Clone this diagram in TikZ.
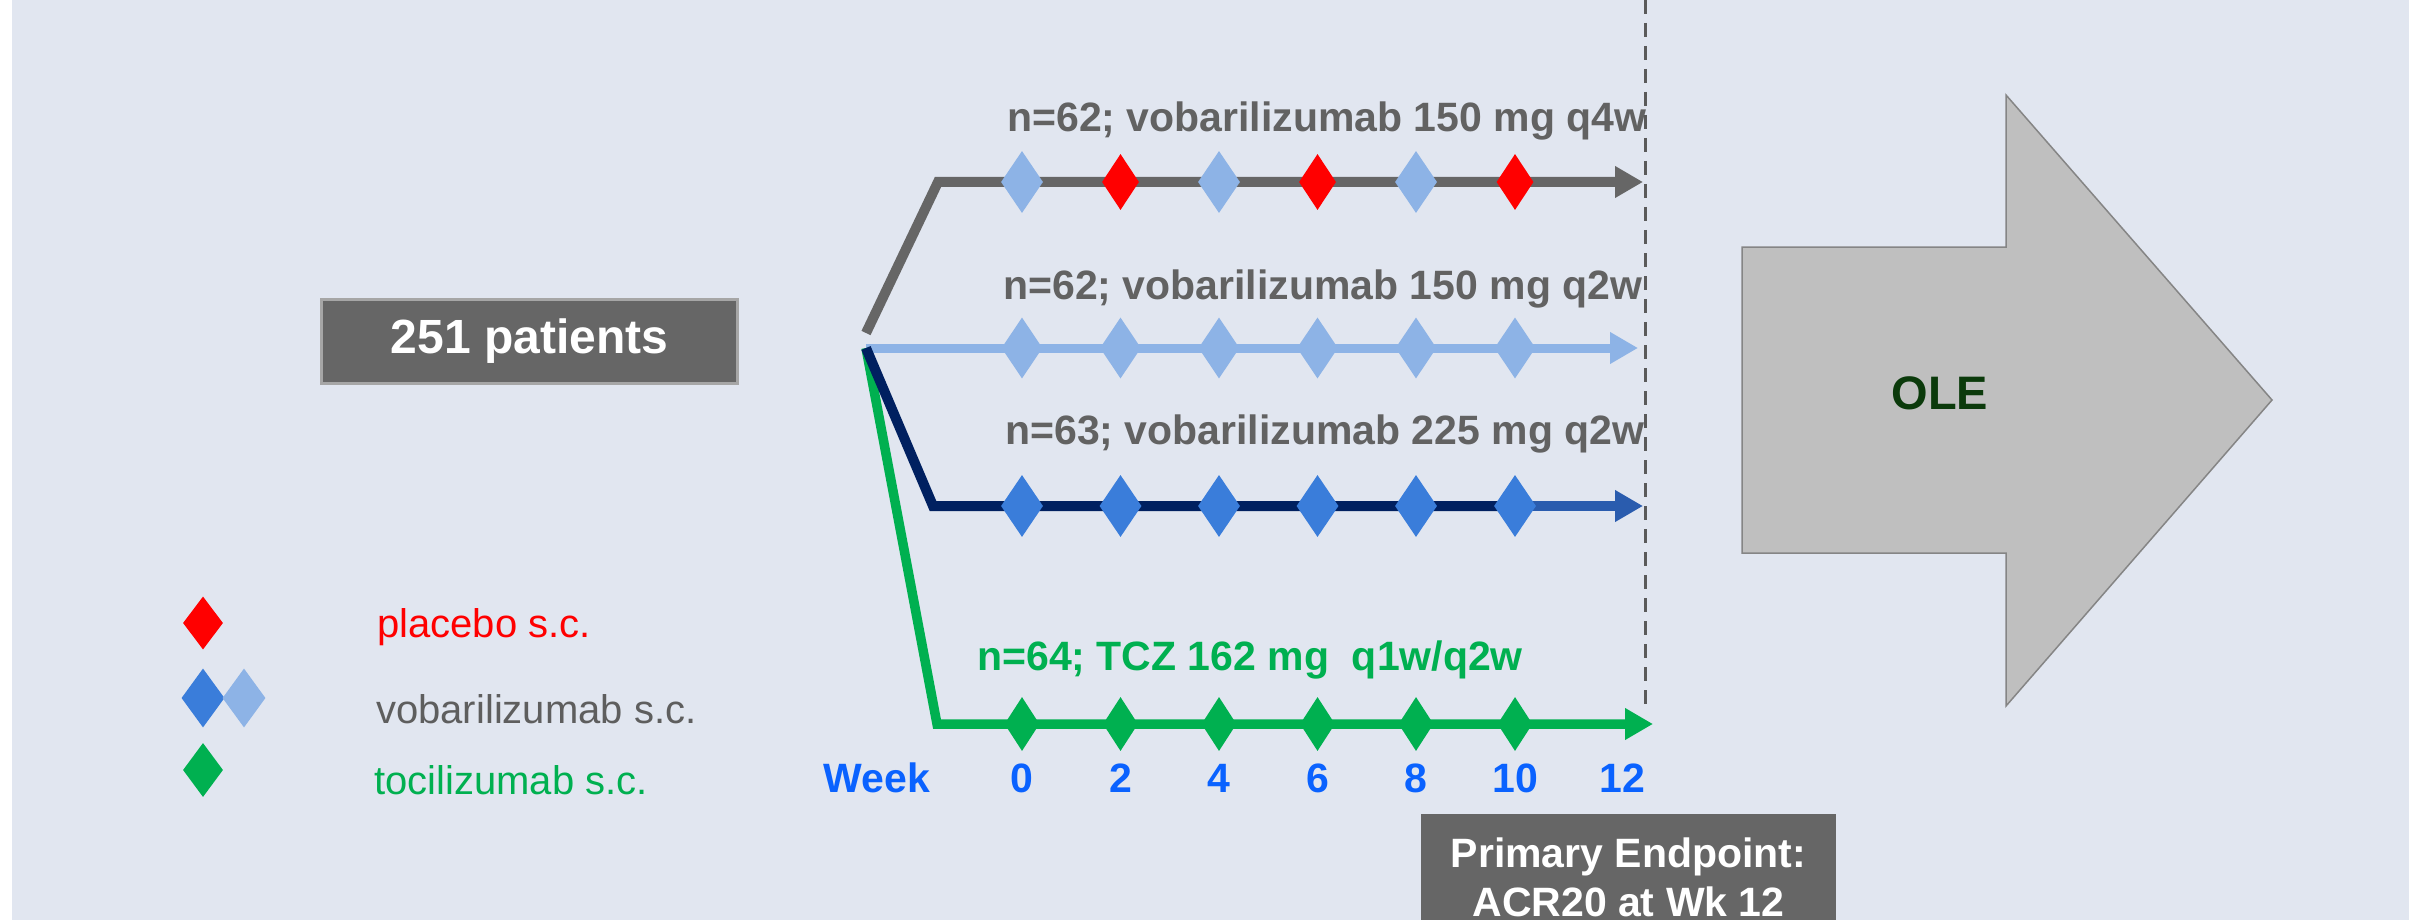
\documentclass[tikz,border=0pt]{standalone}
\usepackage{fontspec}
\setmainfont{Liberation Sans}
\usetikzlibrary{shapes.geometric,arrows.meta}

\definecolor{bg}{RGB}{225,230,240}
\definecolor{boxgray}{HTML}{666666}
\definecolor{boxedge}{HTML}{A6A6A6}
\definecolor{armgray}{HTML}{666666}
\definecolor{lblue}{HTML}{8DB3E6}
\definecolor{navy}{HTML}{002060}
\definecolor{dblue}{HTML}{3A7DDA}
\definecolor{midblue}{HTML}{2A5CAE}
\definecolor{tczgreen}{HTML}{00B050}
\definecolor{wkblue}{HTML}{0A62FF}
\definecolor{lblgray}{HTML}{626262}
\definecolor{leggray}{HTML}{5E5E5E}
\definecolor{olefill}{HTML}{BFBFBF}
\definecolor{oleedge}{HTML}{858585}
\definecolor{oletext}{HTML}{0B3A0B}
\definecolor{dashgray}{HTML}{5A5A5A}

\tikzset{
  dia/.style={diamond, inner sep=0pt, draw=none},
  armlabel/.style={font=\fontsize{41}{48}\selectfont\bfseries, inner sep=0pt, anchor=base west, text=lblgray},
  weeklabel/.style={font=\fontsize{41}{48}\selectfont\bfseries, inner sep=0pt, anchor=base, text=wkblue},
  legtext/.style={font=\fontsize{40}{48}\selectfont, inner sep=0pt, anchor=base west},
  arm/.style={line width=10pt, line cap=butt, line join=miter},
  tip/.style={-{Triangle[length=28pt,width=30pt]}},
  dashline/.style={line width=3pt, dashgray, dash pattern=on 14pt off 9pt},
}

\begin{document}
\begin{tikzpicture}[x=1pt,y=-1pt]
% page and backdrop
\useasboundingbox (0,0) rectangle (2409,920);
\fill[white] (0,0) rectangle (2409,920);
\fill[bg] (12,0) rectangle (2409,920);

% enrolment box
\node[draw=boxedge, line width=3pt, fill=boxgray, minimum width=416pt, minimum height=84pt,
      inner sep=0pt, text=white, font=\fontsize{48}{56}\selectfont\bfseries] (pat) at (529.5,341.5) {251 patients};

% branch points, corners and arm ends
\coordinate (sg) at (866,333);
\coordinate (sb) at (866,348);
\coordinate (gc) at (938,182);
\coordinate (ge) at (1643,182);
\coordinate (le) at (1638,348);
\coordinate (nc) at (933,506);
\coordinate (ne) at (1643,506);
\coordinate (tc) at (937,724);
\coordinate (te) at (1653,724);

% arm lines
\draw[arm, lblue, line width=9pt, tip] (sb) -- (le);
\draw[arm, tczgreen, line width=9.5pt, tip] (sb) -- (tc) -- (te);
\coordinate (nl) at (1515,506);
\draw[arm, navy] (sb) -- (nc) -- (nl);
\draw[arm, midblue, tip] (nl) -- (ne);
\draw[arm, armgray, tip] (sg) -- (gc) -- (ge);

% dosing diamonds, arm 1 (q4w with placebo in between)
\foreach \x/\c/\w/\h [count=\i] in {1022/lblue/42/62, 1120.5/red/37/56, 1219/lblue/42/62,
    1317.5/red/37/56, 1416/lblue/42/62, 1515/red/37/56}
  \node[dia, fill=\c, minimum width=\w pt, minimum height=\h pt] (a\i) at (\x,182) {};
% arm 2
\foreach \x [count=\i] in {1022,1120.5,1219,1317.5,1416,1515}
  \node[dia, fill=lblue, minimum width=41pt, minimum height=61pt] (b\i) at (\x,348) {};
% arm 3
\foreach \x [count=\i] in {1022,1120.5,1219,1317.5,1416,1515}
  \node[dia, fill=dblue, minimum width=42pt, minimum height=62pt] (c\i) at (\x,506) {};
% arm 4
\foreach \x [count=\i] in {1022,1120.5,1219,1317.5,1416,1515}
  \node[dia, fill=tczgreen, minimum width=35pt, minimum height=54pt] (d\i) at (\x,724) {};

% arm labels (the q2w labels end at the week-12 line)
\node[armlabel] (l1) at (1007,132) {n=62; vobarilizumab 150 mg q4w};
\begin{scope}
  \clip (0,0) rectangle (1646,920);
  \node[armlabel] (l2) at (1003,299) {n=62; vobarilizumab 150 mg q2w};
  \node[armlabel] (l3) at (1005,444) {n=63; vobarilizumab 225 mg q2w};
\end{scope}
\node[armlabel, text=tczgreen] (l4) at (977,670) {n=64; TCZ 162 mg \ q1w/q2w};

% week axis
\node[weeklabel] (wk) at (877,792) {Week};
\foreach \x/\t [count=\i] in {1022/0,1120.5/2,1219/4,1317.5/6,1416/8,1515/10,1622/12}
  \node[weeklabel] (w\i) at (\x,792) {\t};

% legend
\node[dia, fill=red, minimum width=40pt, minimum height=53pt] (kp) at (203,623) {};
\node[dia, fill=dblue, minimum width=43pt, minimum height=59pt] (kv1) at (203,698) {};
\node[dia, fill=lblue, minimum width=43pt, minimum height=59pt] (kv2) at (244,698) {};
\node[dia, fill=tczgreen, minimum width=40pt, minimum height=54pt] (kt) at (203,770) {};
\node[legtext, text=red] (tp) at (377,637) {placebo s.c.};
\node[legtext, text=leggray] (tv) at (376,723) {vobarilizumab s.c.};
\node[legtext, text=tczgreen] (tt) at (374,794) {tocilizumab s.c.};

% primary endpoint box
\node[fill=boxgray, minimum width=415pt, minimum height=130pt, inner sep=0pt, anchor=north] (pe) at (1628.5,814) {};
\node[font=\fontsize{41}{48}\selectfont\bfseries, text=white, inner sep=0pt, anchor=base] (pe1) at (1628.5,867) {Primary Endpoint:};
\node[font=\fontsize{41}{48}\selectfont\bfseries, text=white, inner sep=0pt, anchor=base] (pe2) at (1628.5,916) {ACR20 at Wk 12};

% open-label extension arrow
\draw[fill=olefill, draw=oleedge, line width=1.5pt, line join=miter]
  (1742,247) -- (2006,247) -- (2006,95) -- (2272,400) -- (2006,706) -- (2006,553) -- (1742,553) -- cycle;
\node[font=\fontsize{47}{54}\selectfont\bfseries, text=oletext, inner sep=0pt] (ole) at (1940,393) {OLE};

% week-12 marker
\coordinate (dtop) at (1645,0);
\coordinate (dbot) at (1645,706);
\draw[dashline] (dtop) -- (dbot);
\end{tikzpicture}
\end{document}
